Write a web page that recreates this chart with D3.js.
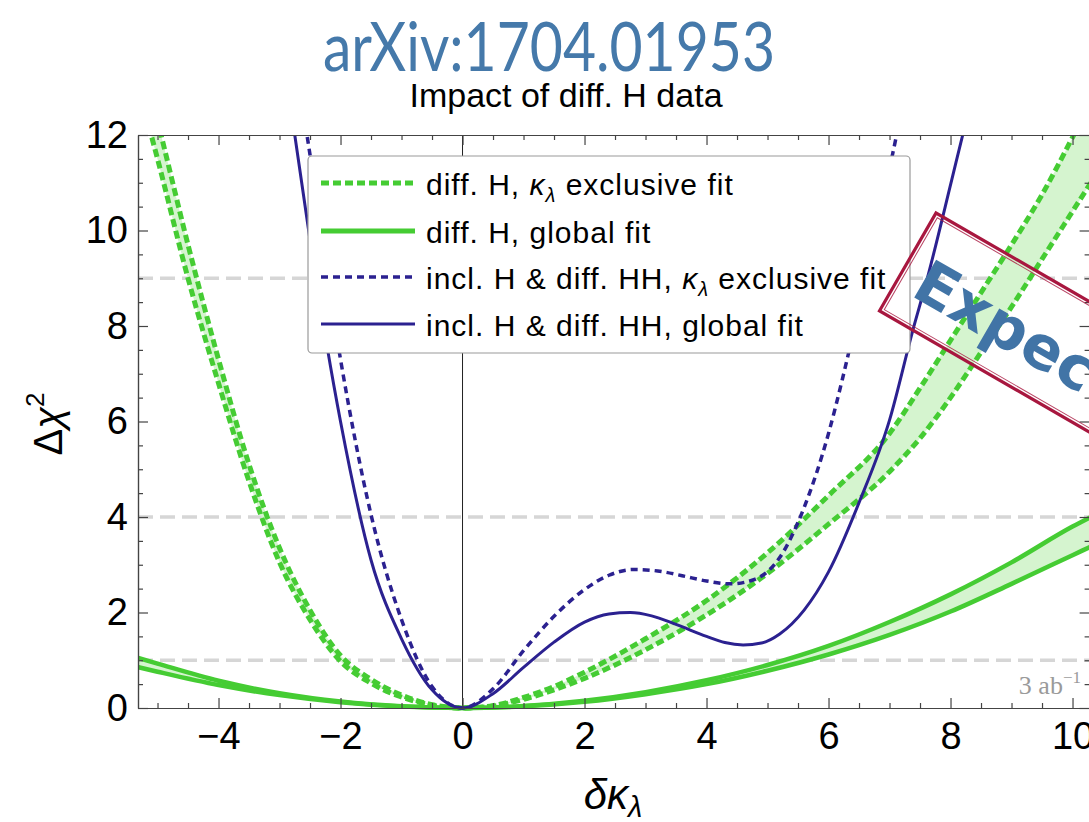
<!DOCTYPE html>
<html><head><meta charset="utf-8">
<script src="https://cdn.jsdelivr.net/npm/d3@7"></script>
<style>body{margin:0;background:#fff}svg{display:block}</style>
</head><body>
<svg id="c" width="1089" height="822"></svg>
<script>
// ---------- data ----------
const xTicks = [-4, -2, 0, 2, 4, 6, 8, 10];
const yTicks = [0, 2, 4, 6, 8, 10, 12];
const refLevels = [1, 4, 9];

const kBlueSolid   = [-2.9, -2.75, -2.5, -2.0, -1.5, -1.0, -0.5, 0, 0.5, 1.0, 1.5, 2.0, 2.4, 2.75, 3.1, 3.5, 4.0, 4.3, 4.6, 4.9, 5.2, 5.6, 6.0, 6.5, 7.0, 7.38, 7.62, 8.02, 8.2, 8.4];
const chiBlueSolid = [13.4, 12.0, 9.8, 6.0, 3.1, 1.45, 0.38, 0, 0.3, 0.85, 1.38, 1.8, 1.97, 2.0, 1.93, 1.75, 1.5, 1.37, 1.32, 1.36, 1.55, 2.05, 2.85, 4.3, 6.03, 7.9, 9.0, 11.06, 12.0, 13.0];

const kBlueDashed   = [-2.7, -2.55, -2.0, -1.5, -1.0, -0.5, 0, 0.5, 1.0, 1.5, 2.0, 2.4, 2.8, 3.2, 3.6, 4.0, 4.4, 4.8, 5.2, 5.6, 6.0, 6.23, 6.5, 6.84, 7.0, 7.2, 7.4];
const chiBlueDashed = [13.2, 12.0, 7.3, 4.05, 1.85, 0.45, 0, 0.4, 1.2, 1.92, 2.48, 2.78, 2.9, 2.87, 2.77, 2.66, 2.6, 2.7, 3.15, 4.2, 5.75, 6.9, 8.4, 10.4, 11.3, 12.5, 13.6];

const kGreenDashed     = [-5.4, -5, -4.5, -4, -3.5, -3, -2.5, -2, -1.5, -1, -0.5, 0, 0.5, 1, 1.5, 2, 3, 4, 5, 6, 7, 7.5, 8, 8.5, 9, 9.5, 10, 10.3];
const chiGreenDashedHi = [14.3, 12.3, 9.7, 7.3, 5.1, 3.35, 2.05, 1.1, 0.6, 0.27, 0.07, 0, 0.05, 0.22, 0.45, 0.75, 1.45, 2.25, 3.25, 4.45, 5.75, 6.7, 7.7, 8.7, 9.7, 10.75, 11.95, 12.7];
const chiGreenDashedLo = [13.4, 11.5, 9.0, 6.8, 4.75, 3.05, 1.85, 0.98, 0.52, 0.23, 0.06, 0, 0.04, 0.18, 0.38, 0.62, 1.22, 1.95, 2.82, 3.85, 4.95, 5.65, 6.5, 7.45, 8.4, 9.4, 10.4, 11.0];

const kGreenSolid     = [-5.4, -5, -4, -3, -2, -1, 0, 1, 2, 3, 4, 5, 6, 7, 8, 9, 10, 10.3];
const chiGreenSolidHi = [1.08, 0.93, 0.57, 0.31, 0.135, 0.035, 0, 0.04, 0.15, 0.33, 0.58, 0.9, 1.3, 1.8, 2.38, 3.05, 3.8, 4.0];
const chiGreenSolidLo = [0.88, 0.76, 0.48, 0.27, 0.12, 0.03, 0, 0.035, 0.13, 0.29, 0.5, 0.78, 1.12, 1.53, 2.02, 2.6, 3.2, 3.38];

const legendLabels = [
  ["diff. H, ", true, " exclusive fit"],
  ["diff. H, global fit", false, ""],
  ["incl. H & diff. HH, ", true, " exclusive fit"],
  ["incl. H & diff. HH, global fit", false, ""]
];

// ---------- styles ----------
const GREEN = "#45cc33", GREEN_FILL = "#d5f4cf", BLUE = "#2b2190";
const FONT = "'Liberation Sans', Arial, Helvetica, sans-serif";

const svg = d3.select("#c");
const x = d3.scaleLinear().domain([-5.32, 10.28]).range([138, 1089.6]);
const y = d3.scaleLinear().domain([0, 12]).range([708, 135]);
const [X0, X1] = x.range(), [Y0, Y1] = y.range();

svg.append("defs").append("clipPath").attr("id", "plot")
  .append("rect").attr("x", X0).attr("y", Y1).attr("width", X1 - X0).attr("height", Y0 - Y1 + 3);

const plot = svg.append("g").attr("clip-path", "url(#plot)");

// reference lines
plot.selectAll("line.ref").data(refLevels).join("line").attr("class", "ref")
  .attr("x1", X0).attr("x2", X1).attr("y1", d => y(d)).attr("y2", d => y(d))
  .attr("stroke", "#d6d6d6").attr("stroke-width", 3.5).attr("stroke-dasharray", "15 7");

// zero line
plot.append("line").attr("x1", x(0)).attr("x2", x(0)).attr("y1", Y1).attr("y2", Y0)
  .attr("stroke", "#222").attr("stroke-width", 1);

const zip = (ks, vs) => ks.map((k, i) => [k, vs[i]]);
const line = d3.line().x(d => x(d[0])).y(d => y(d[1])).curve(d3.curveMonotoneX);
const area = d3.area().x(d => x(d[0])).y0(d => y(d[1])).y1(d => y(d[2])).curve(d3.curveMonotoneX);

// bands
plot.append("path").datum(kGreenSolid.map((k, i) => [k, chiGreenSolidLo[i], chiGreenSolidHi[i]]))
  .attr("d", area).attr("fill", GREEN_FILL);
plot.append("path").datum(kGreenDashed.map((k, i) => [k, chiGreenDashedLo[i], chiGreenDashedHi[i]]))
  .attr("d", area).attr("fill", GREEN_FILL);

// green solid
[chiGreenSolidHi, chiGreenSolidLo].forEach(v =>
  plot.append("path").datum(zip(kGreenSolid, v)).attr("d", line)
    .attr("fill", "none").attr("stroke", GREEN).attr("stroke-width", 4.5));
// green dashed
[chiGreenDashedHi, chiGreenDashedLo].forEach(v =>
  plot.append("path").datum(zip(kGreenDashed, v)).attr("d", line)
    .attr("fill", "none").attr("stroke", GREEN).attr("stroke-width", 5).attr("stroke-dasharray", "8 4"));
// blue
plot.append("path").datum(zip(kBlueSolid, chiBlueSolid)).attr("d", line)
  .attr("fill", "none").attr("stroke", BLUE).attr("stroke-width", 3);
plot.append("path").datum(zip(kBlueDashed, chiBlueDashed)).attr("d", line)
  .attr("fill", "none").attr("stroke", BLUE).attr("stroke-width", 3.5).attr("stroke-dasharray", "7 5");

// ---------- axes / frame ----------
const minorX = d3.range(-5, 10.01, 0.5).filter(v => v % 2 !== 0);
const minorY = d3.range(0, 12.01, 0.5).filter(v => v % 2 !== 0);
function styleAxis(g) {
  g.selectAll("path.domain").attr("stroke", "#444").attr("stroke-width", 1.2);
  g.selectAll(".tick line").attr("stroke", "#444").attr("stroke-width", 1.2);
  g.selectAll("text").attr("font-family", FONT).attr("font-size", 38).attr("fill", "#000");
}
// bottom
svg.append("g").attr("transform", `translate(0,${Y0})`)
  .call(d3.axisBottom(x).tickValues(xTicks).tickSize(-10).tickSizeOuter(0).tickPadding(14))
  .call(styleAxis);
svg.append("g").attr("transform", `translate(0,${Y0})`)
  .call(d3.axisBottom(x).tickValues(minorX).tickSize(-5).tickSizeOuter(0).tickFormat(""))
  .call(styleAxis);
// top
svg.append("g").attr("transform", `translate(0,${Y1})`)
  .call(d3.axisTop(x).tickValues(xTicks).tickSize(-10).tickSizeOuter(0).tickFormat(""))
  .call(styleAxis);
svg.append("g").attr("transform", `translate(0,${Y1})`)
  .call(d3.axisTop(x).tickValues(minorX).tickSize(-5).tickSizeOuter(0).tickFormat(""))
  .call(styleAxis);
// left
svg.append("g").attr("transform", `translate(${X0},0)`)
  .call(d3.axisLeft(y).tickValues(yTicks).tickSize(-10).tickSizeOuter(0).tickPadding(10))
  .call(styleAxis);
svg.append("g").attr("transform", `translate(${X0},0)`)
  .call(d3.axisLeft(y).tickValues(minorY).tickSize(-5).tickSizeOuter(0).tickFormat(""))
  .call(styleAxis);
// right
svg.append("g").attr("transform", `translate(${X1},0)`)
  .call(d3.axisRight(y).tickValues(yTicks).tickSize(-10).tickSizeOuter(0).tickFormat(""))
  .call(styleAxis);
svg.append("g").attr("transform", `translate(${X1},0)`)
  .call(d3.axisRight(y).tickValues(minorY).tickSize(-5).tickSizeOuter(0).tickFormat(""))
  .call(styleAxis);

// axis titles
const yl = svg.append("text").attr("transform", "translate(62,424) rotate(-90)")
  .attr("text-anchor", "middle").attr("font-family", FONT).attr("font-size", 40);
yl.append("tspan").text("Δ");
yl.append("tspan").attr("font-style", "italic").text("χ");
yl.append("tspan").attr("font-size", 26).attr("dy", -18).text("2");

const xl = svg.append("text").attr("x", 613).attr("y", 809).attr("text-anchor", "middle")
  .attr("font-family", FONT).attr("font-size", 42).attr("font-style", "italic");
xl.append("tspan").text("δκ");
xl.append("tspan").attr("font-size", 29).attr("dy", 8).text("λ");

// ---------- legend ----------
const lg = svg.append("g");
lg.append("rect").attr("x", 308).attr("y", 156).attr("width", 602).attr("height", 197).attr("rx", 4)
  .attr("fill", "#fff").attr("stroke", "#9a9a9a").attr("stroke-width", 1.2);
const legendStyles = [
  {c: GREEN, w: 5, dash: "8 4"}, {c: GREEN, w: 5, dash: null},
  {c: BLUE, w: 3.5, dash: "7 5"}, {c: BLUE, w: 3.2, dash: null}
];
const rowY = [183, 231, 277, 324];
legendLabels.forEach((lab, i) => {
  const s = legendStyles[i];
  lg.append("line").attr("x1", 321).attr("x2", 415).attr("y1", rowY[i]).attr("y2", rowY[i])
    .attr("stroke", s.c).attr("stroke-width", s.w).attr("stroke-dasharray", s.dash);
  const t = lg.append("text").attr("x", 426).attr("y", rowY[i] + 11.5)
    .attr("font-family", FONT).attr("font-size", 30).attr("letter-spacing", 1.0);
  t.append("tspan").text(lab[0]);
  if (lab[1]) {
    t.append("tspan").attr("font-style", "italic").text("κ");
    t.append("tspan").attr("font-style", "italic").attr("font-size", 20).attr("dy", 7).text("λ");
    t.append("tspan").attr("dy", -7).text(lab[2]);
  }
});

// luminosity label
const lum = svg.append("text").attr("x", 1081).attr("y", 694).attr("text-anchor", "end")
  .attr("font-family", "'Liberation Serif', 'Times New Roman', serif").attr("font-size", 26).attr("fill", "#9a9a9a");
lum.append("tspan").text("3 ab");
lum.append("tspan").attr("font-size", 17).attr("dy", -11).text("−1");

// ---------- titles ----------
svg.append("text").attr("x", 566).attr("y", 107).attr("text-anchor", "middle")
  .attr("font-family", FONT).attr("font-size", 34).text("Impact of diff. H data");
svg.append("text").attr("x", 323).attr("y", 71).attr("font-family", "Lato, 'Open Sans', sans-serif")
  .attr("font-size", 68).attr("fill", "#4579aa").attr("textLength", 452).attr("lengthAdjust", "spacingAndGlyphs")
  .text("arXiv:1704.01953");

// ---------- stamp ----------
const st = svg.append("g").attr("transform", "translate(936,213) rotate(30)");
st.append("rect").attr("x", 0).attr("y", 0).attr("width", 520).attr("height", 113)
  .attr("fill", "none").attr("stroke", "#a8173f").attr("stroke-width", 3.2);
st.append("rect").attr("x", 3.5).attr("y", 3.5).attr("width", 513).attr("height", 106)
  .attr("fill", "none").attr("stroke", "#a8173f").attr("stroke-width", 1).attr("opacity", 0.8);
st.append("text").attr("x", 18).attr("y", 84).attr("font-family", "'DejaVu Sans', Verdana, sans-serif")
  .attr("font-weight", "bold").attr("font-size", 60).attr("fill", "#4174a6").text("Expected");
</script>
</body></html>
